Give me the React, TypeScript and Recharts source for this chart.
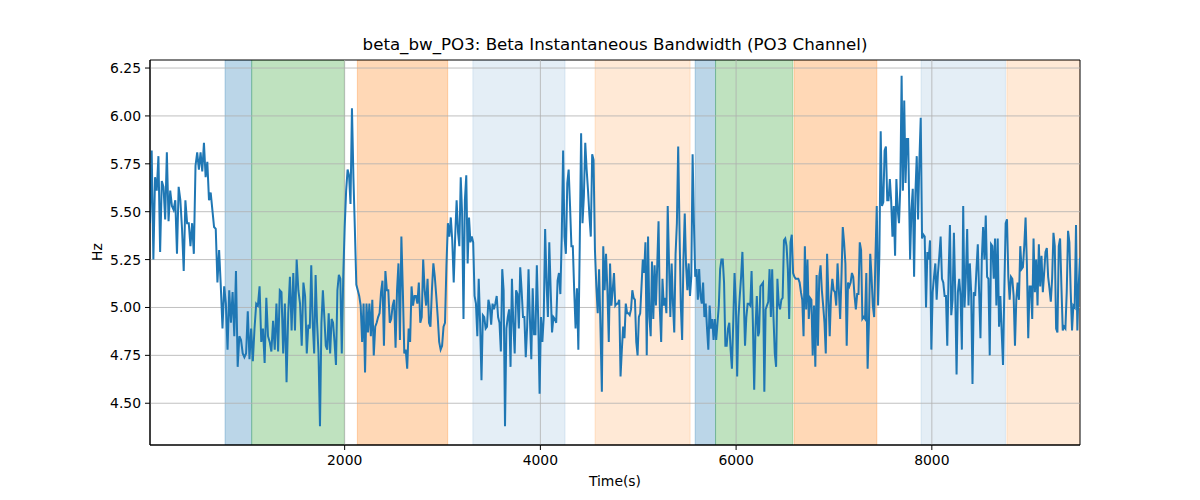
import React from "react";
import {
  LineChart,
  Line,
  XAxis,
  YAxis,
  ReferenceArea,
  ReferenceLine,
} from "recharts";

// beta bandwidth readings, one array per stretch of the recording
const seg1 = [
  5.44, 5.82, 5.25, 5.68, 5.61, 5.79, 5.29, 5.66, 5.63, 5.46,
  5.81, 5.45, 5.61, 5.53, 5.51, 5.56, 5.28, 5.63, 5.56, 5.41,
  5.19, 5.56, 5.44, 5.44, 5.32, 5.44, 5.28, 5.74, 5.81, 5.72,
  5.81, 5.71, 5.86, 5.68, 5.76, 5.56, 5.6, 5.51, 5.42, 5.41,
  5.13, 5.3, 5.11, 4.89, 5.11, 5.02, 4.78, 5.09, 4.92, 5.08,
  4.85, 5.19, 4.69, 4.85, 4.83, 4.76, 4.74, 4.76, 4.98, 4.73,
  4.89, 4.72, 4.89, 5.02, 5.01, 5.11, 4.82, 4.89, 4.71, 5.05,
  4.85, 4.82, 4.77, 4.93, 4.78, 5.02, 4.77, 5.09, 5.08, 4.76,
  5.02, 4.61, 4.97, 5.16, 4.88, 5.18, 4.88, 5.25, 5.09, 5.02,
  4.8, 5.13, 5.06, 4.76,
];
const seg2 = [
  4.91, 4.89, 5.22, 4.92, 4.76, 5.17, 4.92, 4.76, 4.38, 4.92,
  5.09, 4.95, 4.8, 4.78, 4.97, 4.76, 4.94, 4.92, 4.82, 4.7,
  5.09, 5.17, 5.15, 4.76, 5.16, 5.42, 5.61, 5.72, 5.69, 5.54,
  6.04, 5.68, 5.41, 5.12, 5.09, 5.06, 5.01, 4.82, 5.02, 4.66,
  5.02, 4.87, 5.02, 4.85, 5.04, 4.75, 4.9, 4.92, 4.95, 4.97,
  5.08, 5.14, 4.8, 5.19, 5.09, 5.09, 4.92, 4.94, 5.01, 5.04,
  4.79, 5.09, 5.23, 4.83, 5.37, 5.09, 4.76, 4.78, 4.68, 4.89,
  4.82, 5.11, 5.01, 5.06, 5.06, 5.02, 5.13, 4.92, 4.95, 5.25,
  5.09, 5.01, 5.15, 4.92, 4.9, 5.09, 5.23, 5.16, 5.06, 4.95,
  4.82, 4.78, 4.8, 4.9, 4.92, 5.22, 5.44, 5.37, 5.47, 5.35,
  5.13, 5.37, 5.56, 5.39,
];
const seg3 = [
  5.32, 5.68, 5.49, 4.94, 5.56, 5.69, 5.23, 5.47, 5.34, 5.37,
  5.34, 5.06, 5.02, 4.85, 5.15, 4.92, 4.62, 4.96, 4.95, 4.89,
  4.9, 5.04, 5.01, 4.91, 5.02, 4.99, 5.02, 5.06, 4.95, 4.92,
  4.77, 5.2, 5.09, 4.38, 4.89, 4.95, 4.99, 4.69, 5.15, 4.92,
  4.76, 5.09, 5.07, 4.89, 5.21, 5.09, 4.95, 4.95, 4.74, 4.9,
  5.2, 4.94, 4.73, 5.1, 4.86, 4.86, 5.22, 4.94, 4.55, 4.95,
  4.82, 4.95, 5.41, 5.13, 4.95, 5.34, 5.09, 4.87, 4.95, 4.94,
  4.92, 5.14, 5.18, 5.07, 5.37, 5.82, 5.37, 5.28, 5.65, 5.72,
  5.53, 5.32, 5.32, 5.09, 4.89, 5.1, 4.78, 5.32, 5.91, 5.44,
  5.58, 5.86, 5.72, 5.61, 5.48, 5.37, 5.8, 5.77, 5.3, 5.11,
  4.97, 5.2, 4.89, 4.56, 5.32, 5.09, 5.28, 5.09, 4.82,
];
const seg4 = [
  5.23, 5.01, 5.09, 5.18, 5.01, 5.02, 5.02, 5.04, 4.64, 4.78,
  4.9, 4.84, 5.02, 4.97, 4.97, 4.96, 4.99, 5.09, 5.05, 5.04,
  4.82, 4.75, 4.95, 4.97, 5.11, 5.25, 5.18, 5.34, 4.75, 5.37,
  4.95, 4.85, 5.24, 4.94, 5.22, 5.01, 5.22, 5.45, 4.99, 4.82,
  5.15, 5.01, 5.05, 4.97, 5.53, 5.23, 4.95, 5.23, 5.02, 4.87,
  5.28, 5.44, 5.84, 5.41, 5.01, 4.83, 5.25, 5.49, 5.22, 5.09,
  5.23, 5.06, 5.16, 5.8, 5.44, 5.16, 5.2, 5.04, 5.2, 5.06,
  5.02, 5.13, 4.95, 5.02, 4.89, 4.78, 5.01, 4.89, 4.94, 4.83,
  4.94, 4.83, 4.92, 5.01, 5.2, 5.25, 5.25, 5.13, 4.8, 4.8,
  4.89, 4.92, 4.78, 4.68, 4.92, 5.18, 5.02, 4.64, 4.95, 5.06,
  5.16, 5.29, 5.06, 4.8, 4.95, 5.02, 5.02, 5.01, 5.19, 4.92,
  4.57, 4.89, 5.06, 4.85,
];
const seg5 = [
  4.87, 5.11, 5.12, 5.13, 4.56, 4.99, 5.01, 5.03, 5.2, 4.95,
  5.2, 4.95, 4.76, 4.69, 5.15, 5.02, 4.99, 5.04, 5.05, 5.35,
  5.36, 5.32, 5.2, 4.94, 5.34, 5.38, 5.18, 5.16, 5.15, 5.15,
  5.15, 5.13, 5.08, 5.04, 4.85, 5.32, 4.99, 5.25, 4.94, 5.05,
  5.04, 4.75, 5.01, 4.69, 5.17, 4.8, 5.16, 5.22, 5.09, 5.01,
  4.92, 4.76, 5.28, 5.06, 4.85, 5.06, 5.15, 5.09, 5.08, 5.01,
  5.23, 5.09, 4.94, 5.16, 5.42, 5.34, 5.23, 4.8, 5.13, 5.11,
  5.13, 5.18, 5.16, 5.06, 4.99, 5.07, 5.07, 5.34, 5.3, 4.94,
  4.95, 4.94, 5.18, 4.68, 4.92, 5.28, 5.16, 5.01, 4.95, 5.27,
  5.53, 5.01, 5.28, 5.92, 5.53, 5.55, 5.82, 5.84, 5.56, 5.56,
  5.67, 5.56, 5.37, 5.53, 5.27, 5.67, 5.51, 5.44, 5.63, 6.21,
  5.61, 6.08, 5.65, 5.88, 5.88,
];
const seg6 = [
  5.25, 5.51, 5.62, 5.16, 5.6, 5.79, 5.46, 5.77, 5.99, 5.36,
  5.38, 5.37, 5.0, 5.29, 5.25, 5.35, 4.78, 5.08, 5.16, 5.23,
  5.04, 5.18, 5.27, 5.37, 5.15, 5.13, 5.06, 5.06, 4.8, 5.18,
  5.43, 4.96, 5.04, 5.39, 5.08, 4.65, 5.08, 5.15, 5.06, 4.78,
  5.53, 5.0, 5.16, 5.41, 5.01, 5.23, 5.08, 4.6, 5.08, 5.06,
  5.2, 5.33, 5.08, 4.84, 5.25, 5.42, 5.25, 5.48, 5.16, 5.15,
  4.75, 5.33, 5.32, 5.15, 5.36, 5.01, 5.36, 4.9, 5.06, 4.87,
  4.7, 5.1, 5.44, 5.46, 5.16, 5.04, 5.16, 5.15, 5.06, 4.8,
  5.04, 5.13, 5.04, 5.32, 5.2, 5.21, 5.32, 5.47, 5.22, 4.84,
  5.11, 5.11, 4.94, 5.36, 5.08, 5.25, 5.01, 5.33, 5.11, 5.27,
  5.08, 5.18, 5.29, 5.31, 5.16, 5.1, 5.03, 5.15, 5.39, 5.32,
  4.89, 4.87, 5.32, 5.36, 5.11, 4.88, 4.9, 4.89, 5.08, 5.4,
  5.34, 5.08, 4.88, 5.01, 5.0, 5.43, 4.88, 5.11, 5.26,
];

// start / end time (s) of each stretch above
const segFrom = [11, 1629, 3172, 4712, 6235, 7778];
const segTo = [1613, 3159, 4699, 6225, 7758, 9514];
const segValues = [seg1, seg2, seg3, seg4, seg5, seg6];

// shaded phases
const spanStart = [778, 1050, 2130, 3310, 4559, 5582, 5790, 6593, 7890, 8767];
const spanEnd = [1050, 1997, 3053, 4252, 5530, 5790, 6579, 7438, 8752, 9514];
const spanKind = [0, 1, 2, 3, 4, 0, 1, 2, 3, 4];
const kindColor = ["#1f77b4", "#2ca02c", "#ff7f0e", "#1f77b4", "#ff7f0e"];
const kindAlpha = [0.3, 0.3, 0.3, 0.12, 0.17];

const xTicks = [2000, 4000, 6000, 8000];
const yTicks = [4.5, 4.75, 5.0, 5.25, 5.5, 5.75, 6.0, 6.25];
const xDomain = [11, 9514];
const yDomain = [4.282, 6.292];

const data = segValues.flatMap((vals, s) =>
  vals.map((v, i) => ({
    t: segFrom[s] + (i * (segTo[s] - segFrom[s])) / (vals.length - 1),
    v,
  }))
);

const font = "'DejaVu Sans', sans-serif";
const tickStyle = { fontSize: 13.9, fill: "#000", fontFamily: font };

export default function App() {
  return (
    <div
      style={{
        position: "absolute",
        left: 0,
        top: 0,
        width: 1200,
        height: 500,
        background: "#fff",
        fontFamily: font,
      }}
    >
      <div
        style={{
          position: "absolute",
          left: 150,
          width: 930,
          top: 35,
          textAlign: "center",
          fontSize: 16.67,
          lineHeight: "20px",
        }}
      >
        beta_bw_PO3: Beta Instantaneous Bandwidth (PO3 Channel)
      </div>
      <div
        style={{
          position: "absolute",
          left: 150,
          width: 930,
          top: 472,
          textAlign: "center",
          fontSize: 13.9,
          lineHeight: "18px",
        }}
      >
        Time(s)
      </div>
      <div
        style={{
          position: "absolute",
          left: 72,
          top: 243,
          width: 50,
          textAlign: "center",
          fontSize: 13.9,
          lineHeight: "18px",
          transform: "rotate(-90deg)",
        }}
      >
        Hz
      </div>
      <LineChart
        width={1200}
        height={500}
        data={data}
        margin={{ top: 60, right: 120, bottom: 0, left: 0 }}
      >
        <XAxis
          dataKey="t"
          type="number"
          domain={xDomain}
          ticks={xTicks}
          allowDataOverflow
          height={55}
          tickSize={5}
          tickMargin={5}
          stroke="#000"
          tick={tickStyle}
        />
        <YAxis
          type="number"
          domain={yDomain}
          ticks={yTicks}
          allowDataOverflow
          width={150}
          tickSize={5}
          tickMargin={4}
          stroke="#000"
          tick={tickStyle}
          tickFormatter={(v: number) => v.toFixed(2)}
        />
        {spanStart.map((s, i) => (
          <ReferenceArea
            key={"span" + i}
            x1={s}
            x2={spanEnd[i]}
            fill={kindColor[spanKind[i]]}
            fillOpacity={kindAlpha[spanKind[i]]}
            stroke={kindColor[spanKind[i]]}
            strokeOpacity={kindAlpha[spanKind[i]]}
            ifOverflow="hidden"
          />
        ))}
        {xTicks.map((x) => (
          <ReferenceLine key={"gx" + x} x={x} stroke="#b0b0b0" strokeWidth={0.8} />
        ))}
        {yTicks.map((y) => (
          <ReferenceLine key={"gy" + y} y={y} stroke="#b0b0b0" strokeWidth={0.8} />
        ))}
        <Line
          type="linear"
          dataKey="v"
          stroke="#1f77b4"
          strokeWidth={2}
          dot={false}
          isAnimationActive={false}
        />
        <ReferenceArea
          x1={xDomain[0]}
          x2={xDomain[1]}
          y1={yDomain[0]}
          y2={yDomain[1]}
          fill="none"
          stroke="#000"
          strokeWidth={1}
          fillOpacity={0}
        />
      </LineChart>
    </div>
  );
}
